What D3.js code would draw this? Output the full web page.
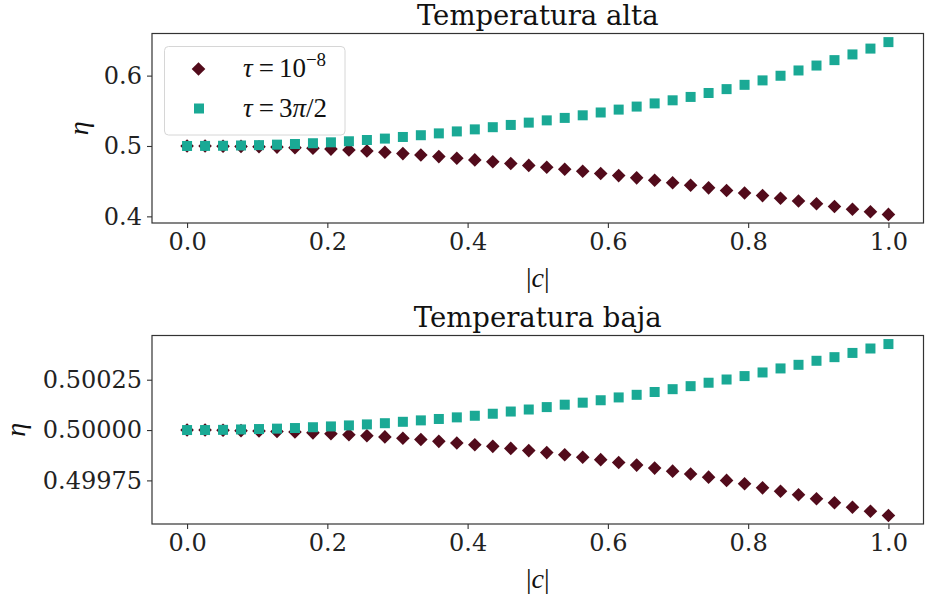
<!DOCTYPE html>
<html>
<head>
<meta charset="utf-8">
<script src="https://cdn.jsdelivr.net/npm/d3@7"></script>
<style>
  html, body { margin: 0; padding: 0; background: #fff; }
  svg { display: block; }
</style>
</head>
<body>
<svg id="chart" width="925" height="602"></svg>
<script>
// ---- data ----
const cValues = d3.range(40).map(i => i / 39); // |c| sample points, 40 evenly spaced in [0, 1]

const altaTauSmall = [0.5000,0.4999,0.4997,0.4994,0.4990,0.4984,0.4976,0.4967,0.4956,0.4943,
  0.4928,0.4911,0.4892,0.4871,0.4849,0.4826,0.4802,0.4777,0.4751,0.4724,
  0.4697,0.4669,0.4640,0.4610,0.4579,0.4547,0.4514,0.4478,0.4442,0.4405,
  0.4368,0.4331,0.4295,0.4258,0.4218,0.4180,0.4140,0.4101,0.4066,0.4028];
const altaTau3pi2 = [0.5000,0.5001,0.5003,0.5007,0.5012,0.5019,0.5028,0.5039,0.5052,0.5067,
  0.5085,0.5105,0.5128,0.5153,0.5179,0.5207,0.5236,0.5267,0.5299,0.5332,
  0.5364,0.5399,0.5436,0.5476,0.5517,0.5560,0.5605,0.5649,0.5697,0.5753,
  0.5808,0.5869,0.5932,0.5998,0.6073,0.6143,0.6220,0.6301,0.6384,0.6476];

const bajaTauSmall = [0.500000,0.500000,0.499999,0.499997,0.499995,0.499993,0.499990,0.499986,0.499982,0.499977,
  0.499972,0.499966,0.499959,0.499953,0.499944,0.499936,0.499927,0.499919,0.499909,0.499898,
  0.499888,0.499877,0.499865,0.499853,0.499839,0.499826,0.499811,0.499796,0.499782,0.499766,
  0.499750,0.499733,0.499713,0.499696,0.499679,0.499659,0.499639,0.499617,0.499597,0.499576];
const bajaTau3pi2 = [0.500000,0.500000,0.500001,0.500003,0.500005,0.500007,0.500010,0.500014,0.500018,0.500023,
  0.500028,0.500034,0.500041,0.500048,0.500055,0.500063,0.500071,0.500081,0.500092,0.500102,
  0.500114,0.500126,0.500136,0.500148,0.500162,0.500175,0.500189,0.500203,0.500218,0.500235,
  0.500251,0.500268,0.500286,0.500306,0.500324,0.500344,0.500362,0.500383,0.500405,0.500427];

const xTicks = [0.0, 0.2, 0.4, 0.6, 0.8, 1.0];
const xTickLabels = ["0.0", "0.2", "0.4", "0.6", "0.8", "1.0"];
const altaYTicks = [0.4, 0.5, 0.6];
const altaYTickLabels = ["0.4", "0.5", "0.6"];
const bajaYTicks = [0.49975, 0.50000, 0.50025];
const bajaYTickLabels = ["0.49975", "0.50000", "0.50025"];

const titles = ["Temperatura alta", "Temperatura baja"];
const seriesColors = ["#520b1b", "#1aa995"];

// ---- layout ----
const svg = d3.select("#chart");
const FONT = "'DejaVu Serif', serif";
const MATH = "'Liberation Serif', 'DejaVu Serif', serif";
const left = 152, right = 923.5;

const panels = [
  { top: 33.5, bottom: 223, title: titles[0], s1: altaTauSmall, s2: altaTau3pi2,
    yTicks: altaYTicks, yLabels: altaYTickLabels, yLabelX: 82 },
  { top: 335.5, bottom: 524, title: titles[1], s1: bajaTauSmall, s2: bajaTau3pi2,
    yTicks: bajaYTicks, yLabels: bajaYTickLabels, yLabelX: 19 }
];

const x = d3.scaleLinear().domain([-0.05, 1.05]).range([left, right]);

function diamondPath(cx, cy, r) {
  return `M${cx},${cy - r}L${cx + r},${cy}L${cx},${cy + r}L${cx - r},${cy}Z`;
}

panels.forEach(p => {
  const all = p.s1.concat(p.s2);
  const lo = d3.min(all), hi = d3.max(all), pad = (hi - lo) * 0.05;
  const y = d3.scaleLinear().domain([lo - pad, hi + pad]).range([p.bottom, p.top]);
  const g = svg.append("g");

  // x axis
  const xAxis = d3.axisBottom(x).tickValues(xTicks).tickSize(5).tickPadding(5)
    .tickFormat((d, i) => xTickLabels[i]);
  const gx = g.append("g").attr("transform", `translate(0,${p.bottom})`).call(xAxis);
  gx.select(".domain").remove();
  gx.selectAll("line").attr("stroke", "#333").attr("stroke-width", 1.1);
  gx.selectAll("text").attr("font-family", FONT).attr("font-size", 24).attr("fill", "#222");

  // y axis
  const yAxis = d3.axisLeft(y).tickValues(p.yTicks).tickSize(5).tickPadding(5)
    .tickFormat((d, i) => p.yLabels[i]);
  const gy = g.append("g").attr("transform", `translate(${left},0)`).call(yAxis);
  gy.select(".domain").remove();
  gy.selectAll("line").attr("stroke", "#333").attr("stroke-width", 1.1);
  gy.selectAll("text").attr("font-family", FONT).attr("font-size", 24).attr("fill", "#222");

  // markers: diamonds then squares
  g.append("g").selectAll("path").data(cValues).join("path")
    .attr("d", (c, i) => diamondPath(x(c), y(p.s1[i]), 6.8))
    .attr("fill", seriesColors[0]);
  g.append("g").selectAll("rect").data(cValues).join("rect")
    .attr("x", c => x(c) - 5).attr("width", 10).attr("height", 10)
    .attr("y", (c, i) => y(p.s2[i]) - 5)
    .attr("fill", seriesColors[1]);

  // frame
  g.append("rect").attr("x", left).attr("y", p.top)
    .attr("width", right - left).attr("height", p.bottom - p.top)
    .attr("fill", "none").attr("stroke", "#333").attr("stroke-width", 1.2);

  // title
  g.append("text").attr("x", (left + right) / 2).attr("y", p.top - 9)
    .attr("text-anchor", "middle").attr("font-family", FONT).attr("font-size", 27.5)
    .attr("fill", "#111").text(p.title);

  // x label |c|
  const xl = g.append("text").attr("x", (left + right) / 2).attr("y", p.bottom + 64)
    .attr("text-anchor", "middle").attr("font-family", MATH).attr("font-size", 28).attr("fill", "#111");
  xl.append("tspan").text("|");
  xl.append("tspan").attr("font-style", "italic").text("c");
  xl.append("tspan").text("|");

  // y label eta
  g.append("text").attr("transform", `translate(${p.yLabelX},${(p.top + p.bottom) / 2}) rotate(-90)`)
    .attr("text-anchor", "middle").attr("dominant-baseline", "middle")
    .attr("font-family", MATH).attr("font-style", "italic").attr("font-size", 28)
    .attr("fill", "#111").text("η");

  // legend only on the first panel
  if (p === panels[0]) {
    const lg = g.append("g");
    lg.append("rect").attr("x", 164.5).attr("y", 46.5).attr("width", 180.5).attr("height", 88.5)
      .attr("rx", 4).attr("fill", "#fff").attr("fill-opacity", 0.85)
      .attr("stroke", "#d6d6d6").attr("stroke-width", 1);
    lg.append("path").attr("d", diamondPath(198.5, 69, 6.8)).attr("fill", seriesColors[0]);
    lg.append("rect").attr("x", 194).attr("y", 103.5).attr("width", 10).attr("height", 10)
      .attr("fill", seriesColors[1]);
    const t1 = lg.append("text").attr("x", 243).attr("y", 77)
      .attr("font-family", MATH).attr("font-size", 27).attr("fill", "#111");
    t1.append("tspan").attr("font-style", "italic").text("τ");
    t1.append("tspan").attr("dx", 6).text("=");
    t1.append("tspan").attr("dx", 5).text("10");
    t1.append("tspan").attr("font-size", 19).attr("dy", -11).text("−8");
    const t2 = lg.append("text").attr("x", 243).attr("y", 117)
      .attr("font-family", MATH).attr("font-size", 27).attr("fill", "#111");
    t2.append("tspan").attr("font-style", "italic").text("τ");
    t2.append("tspan").attr("dx", 6).text("=");
    t2.append("tspan").attr("dx", 5).text("3");
    t2.append("tspan").attr("font-style", "italic").text("π");
    t2.append("tspan").text("/2");
  }
});
</script>
</body>
</html>
